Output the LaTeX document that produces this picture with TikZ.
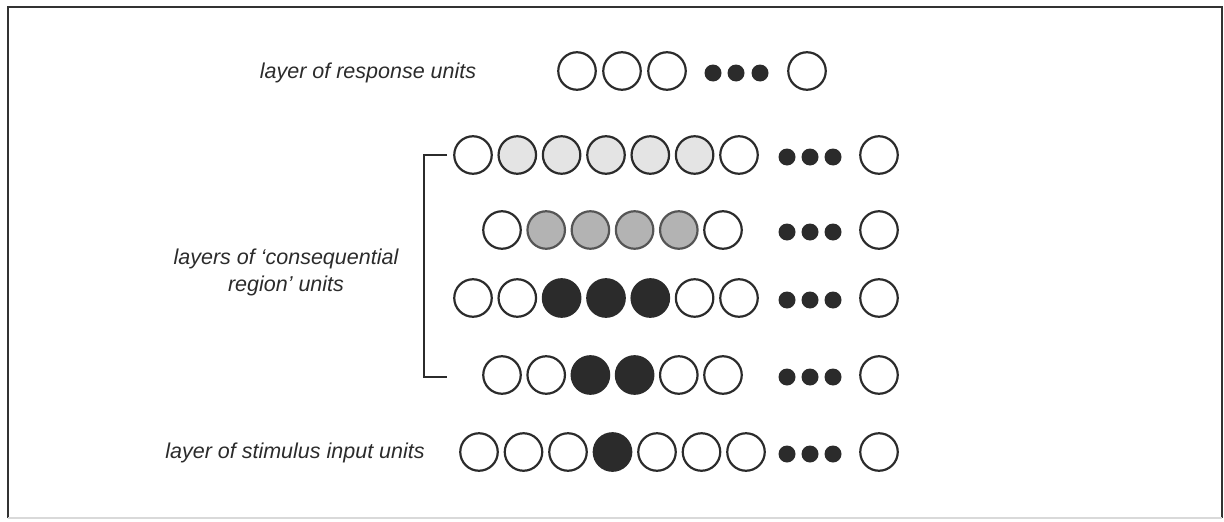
\documentclass[tikz,border=0pt]{standalone}
\usepackage{fontspec}
\setmainfont{Liberation Sans}
\definecolor{ink}{HTML}{2B2B2B}
\definecolor{lightfill}{HTML}{E4E4E4}
\definecolor{midfill}{HTML}{B3B3B3}
\definecolor{midline}{HTML}{555555}
\definecolor{framec}{HTML}{333333}
\begin{document}
\begin{tikzpicture}[x=1pt,y=-1pt,
  unit/.style={circle, draw=ink, line width=2.2pt, minimum size=37.5pt, inner sep=0pt},
  off/.style={unit, fill=white},
  light/.style={unit, fill=lightfill},
  mid/.style={unit, fill=midfill, draw=midline},
  on/.style={unit, fill=ink},
  dotunit/.style={circle, fill=ink, minimum size=17pt, inner sep=0pt},
  lbl/.style={font=\fontsize{21.5}{27}\selectfont\itshape, align=center, text=ink},
  framestyle/.style={draw=framec, line width=2pt},
  bracketstyle/.style={draw=ink, line width=2pt}
]
\useasboundingbox (0,0) rectangle (1224,522);
% frame
\draw[framestyle] (8,518) -- (8,7) -- (1222,7) -- (1222,518);
\draw[black!15, line width=1.5pt] (8,518) -- (1222,518);

% labels
\node[lbl] (lresp) at (368,73) {layer of response units};
\node[lbl] (lcons) at (286,272) {layers of ‘consequential\\region’ units};
\node[lbl] (lstim) at (295,453) {layer of stimulus input units};

% row 1: response units
\foreach \x/\s [count=\i] in {577/off,622/off,667/off,807/off}
  \node[\s] (r1u\i) at (\x,71) {};
\foreach \x [count=\i] in {713,736,760}
  \node[dotunit] (r1d\i) at (\x,73) {};

% row 2
\foreach \x/\s [count=\i] in {473/off,517.3/light,561.6/light,606/light,650.3/light,694.6/light,739/off,879/off}
  \node[\s] (r2u\i) at (\x,155) {};
\foreach \x [count=\i] in {787,810,833}
  \node[dotunit] (r2d\i) at (\x,157) {};

% row 3
\foreach \x/\s [count=\i] in {502/off,546.2/mid,590.4/mid,634.6/mid,678.8/mid,723/off,879/off}
  \node[\s] (r3u\i) at (\x,230) {};
\foreach \x [count=\i] in {787,810,833}
  \node[dotunit] (r3d\i) at (\x,232) {};

% row 4
\foreach \x/\s [count=\i] in {473/off,517.3/off,561.6/on,606/on,650.3/on,694.6/off,739/off,879/off}
  \node[\s] (r4u\i) at (\x,298) {};
\foreach \x [count=\i] in {787,810,833}
  \node[dotunit] (r4d\i) at (\x,300) {};

% row 5
\foreach \x/\s [count=\i] in {502/off,546.2/off,590.4/on,634.6/on,678.8/off,723/off,879/off}
  \node[\s] (r5u\i) at (\x,375) {};
\foreach \x [count=\i] in {787,810,833}
  \node[dotunit] (r5d\i) at (\x,377) {};

% row 6: stimulus input units
\foreach \x/\s [count=\i] in {479/off,523.5/off,568/off,612.5/on,657/off,701.5/off,746/off,879/off}
  \node[\s] (r6u\i) at (\x,452) {};
\foreach \x [count=\i] in {787,810,833}
  \node[dotunit] (r6d\i) at (\x,454) {};

% bracket
\coordinate (bt) at (447,155);
\coordinate (bb) at (447,377);
\draw[bracketstyle] (bt) -- (424,155) -- (424,377) -- (bb);
\end{tikzpicture}
\end{document}
